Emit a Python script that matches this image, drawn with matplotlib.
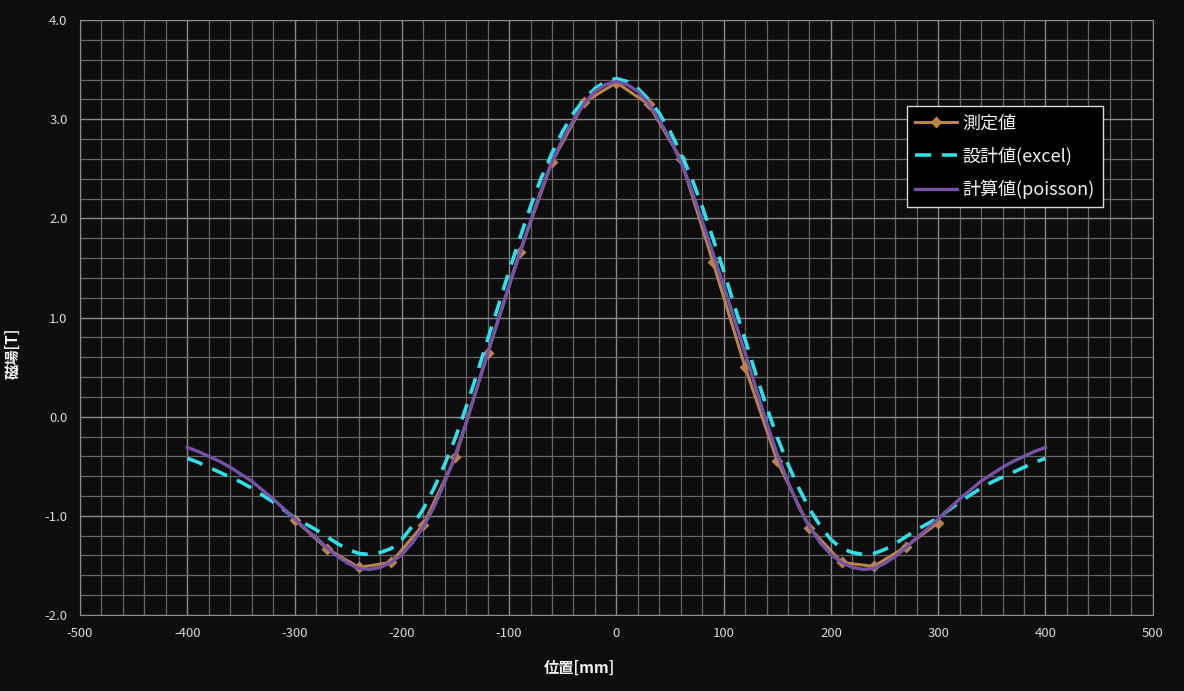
import matplotlib.pyplot as plt
from matplotlib.ticker import MultipleLocator

plt.rcParams['font.family'] = ['Noto Sans CJK JP', 'DejaVu Sans']
plt.rcParams['axes.unicode_minus'] = False

# 測定値 (measured points)
meas_x = [-300, -270, -240, -210, -180, -150, -120, -90, -60, -30, 0,
          30, 60, 90, 120, 150, 180, 210, 240, 270, 300]
meas_y = [-1.04, -1.33, -1.52, -1.47, -1.09, -0.41, 0.64, 1.66, 2.57, 3.17, 3.37,
          3.15, 2.60, 1.56, 0.50, -0.45, -1.12, -1.47, -1.51, -1.31, -1.07]

# 設計値(excel) and 計算値(poisson), read every 10 mm from 0 to 400 (symmetric)
pos = list(range(-400, 401, 10))
excel_half = [3.41, 3.38, 3.31, 3.20, 3.06, 2.88, 2.66, 2.41, 2.12, 1.80, 1.47,
              1.12, 0.78, 0.43, 0.10, -0.21, -0.48, -0.72, -0.93, -1.10, -1.24,
              -1.33, -1.37, -1.39, -1.38, -1.34, -1.28, -1.21, -1.14, -1.08, -1.02,
              -0.94, -0.86, -0.79, -0.72, -0.66, -0.61, -0.56, -0.51, -0.46, -0.42]
poisson_half = [3.38, 3.35, 3.28, 3.16, 2.99, 2.80, 2.57, 2.29, 1.97, 1.65, 1.32,
                0.98, 0.64, 0.29, -0.06, -0.38, -0.66, -0.91, -1.11, -1.27, -1.39,
                -1.47, -1.52, -1.54, -1.53, -1.48, -1.41, -1.32, -1.22, -1.13, -1.03,
                -0.93, -0.83, -0.74, -0.65, -0.58, -0.51, -0.45, -0.40, -0.35, -0.31]
excel_y = excel_half[::-1] + excel_half[1:]
poisson_y = poisson_half[::-1] + poisson_half[1:]

bg = '#0d0d0d'
fig = plt.figure(figsize=(11.84, 6.91), dpi=100, facecolor=bg)
ax = fig.add_axes([0.0676, 0.110, 0.906, 0.861], facecolor=bg)

ax.plot(meas_x, meas_y, '-D', color='#b8844c', lw=2.2, ms=6, mec='none', label='測定値', zorder=3)
ax.plot(pos, excel_y, '--', color='#2fe0e6', lw=2.6, dashes=(4.5, 3), label='設計値(excel)', zorder=4)
ax.plot(pos, poisson_y, '-', color='#7652a6', lw=2.4, label='計算値(poisson)', zorder=5)

ax.set_xlim(-500, 500)
ax.set_ylim(-2.0, 4.0)
ax.xaxis.set_major_locator(MultipleLocator(100))
ax.xaxis.set_minor_locator(MultipleLocator(20))
ax.yaxis.set_major_locator(MultipleLocator(1.0))
ax.yaxis.set_minor_locator(MultipleLocator(0.2))
ax.yaxis.set_major_formatter(lambda v, p: f'{v:.1f}')

ax.grid(which='major', color='#8a8a8a', lw=1.0)
ax.grid(which='minor', color='#666666', lw=0.9)
ax.set_axisbelow(True)
ax.tick_params(which='both', length=0, colors='#d9d9d9', labelsize=9.5, pad=9)
for s in ax.spines.values():
    s.set_color('#8a8a8a')

ax.set_xlabel('位置[mm]', color='#f2f2f2', fontsize=11, fontweight='bold')
ax.set_ylabel('磁場[T]', color='#f2f2f2', fontsize=11, fontweight='bold')
ax.xaxis.set_label_coords(0.466, -0.075)
ax.yaxis.set_label_coords(-0.055, 0.44)

leg = ax.legend(loc='upper left', bbox_to_anchor=(0.771, 0.855), borderaxespad=0,
                fontsize=13, frameon=True, fancybox=False, framealpha=1,
                facecolor='#000000', edgecolor='#d9d9d9', handlelength=2.3,
                handletextpad=0.3, labelspacing=0.8, borderpad=0.45)
for t in leg.get_texts():
    t.set_color('#f2f2f2')

fig.savefig('out.png', dpi=100, facecolor=bg)
